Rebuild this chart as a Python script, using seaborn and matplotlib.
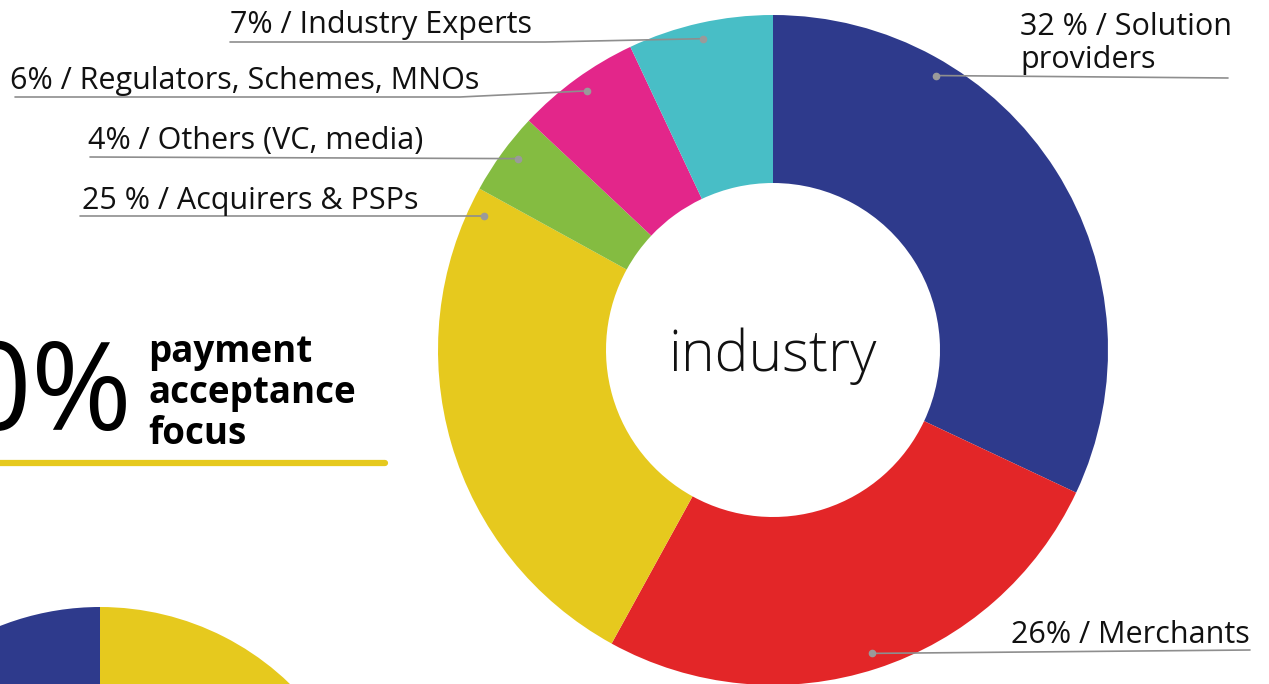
import matplotlib
matplotlib.use("Agg")
import numpy as np
import matplotlib.pyplot as plt
import seaborn as sns

# --- data ---
segments = ["Solution providers", "Merchants", "Acquirers & PSPs",
            "Others (VC, media)", "Regulators, Schemes, MNOs", "Industry Experts"]
shares = [32, 26, 25, 4, 6, 7]
labels = ["32 % / Solution\nproviders", "26% / Merchants", "25 % / Acquirers & PSPs",
          "4% / Others (VC, media)", "6% / Regulators, Schemes, MNOs", "7% / Industry Experts"]
colors = ["#2E3A8C", "#E32628", "#E6C91E", "#84BC41", "#E3268A", "#48BEC6"]

# second (cut off) pie in the lower left corner
small_shares = [60, 40]
small_colors = ["#E6C91E", "#2E3A8C"]

W, H = 1269, 684

sns.set_theme(style="white")
plt.rcParams["font.family"] = ["Open Sans", "DejaVu Sans"]


def Y(py):
    # pixel row (top = 0) -> data y
    return H - py


fig = plt.figure(figsize=(W / 100, H / 100), dpi=100)
ax = fig.add_axes([0, 0, 1, 1])

# main donut
cx, cy, r_out, r_in = 773, Y(350), 335, 167
ax.pie(shares, colors=colors, startangle=90, counterclock=False,
       radius=r_out, center=(cx, cy),
       wedgeprops=dict(width=r_out - r_in, edgecolor="none", linewidth=0))

# small pie, lower left
ax.pie(small_shares, colors=small_colors, startangle=90, counterclock=False,
       radius=273, center=(100, Y(880)),
       wedgeprops=dict(edgecolor="none", linewidth=0))

ax.set_xlim(0, W)
ax.set_ylim(0, H)
ax.set_aspect("equal")
ax.axis("off")

ax.text(cx, cy - 6, "industry", ha="center", va="center",
        fontsize=41, fontweight="light", color="#111111")

# leader lines: where along the slice the dot sits, then text layout
dot_pos = [0.266, 0.5, 0.956, 0.56, 0.515, 0.5]
# (text x, baseline y, ha, line y at text side, far end x, elbow x)
layout = [
    (1020, 68, "left", 78, 1228, None),
    (1250, 643, "right", 650, 1250, None),
    (82, 209, "left", 216, 80, None),
    (88, 149, "left", 157, 90, None),
    (10, 89, "left", 97, 15, 460),
    (230, 33, "left", 42, 230, 545),
]

edges = np.concatenate([[0], np.cumsum(shares)]) / sum(shares)
for i, lab in enumerate(labels):
    frac = edges[i] + dot_pos[i] * (edges[i + 1] - edges[i])
    ang = np.deg2rad(90 - 360 * frac)
    dx, dy = cx + 319 * np.cos(ang), cy + 319 * np.sin(ang)
    tx, ty, ha, ly, far, elbow = layout[i]
    if elbow is None:
        xs, ys = [dx, far], [dy, Y(ly)]
    else:
        xs, ys = [dx, elbow, far], [dy, Y(ly), Y(ly)]
    ax.plot(xs, ys, color="#8E8E8E", lw=1.2, solid_capstyle="round", zorder=3)
    ax.plot([dx], [dy], "o", color="#9A9A9A", ms=4.5, zorder=4)
    ax.text(tx, Y(ty), lab, ha=ha, va="baseline", fontsize=22,
            color="#111111", linespacing=1.15)

# left block
ax.text(133, Y(430), "0%", ha="right", va="baseline", fontsize=88,
        color="#000000")
ax.text(148, Y(444), "payment\nacceptance\nfocus", ha="left", va="baseline",
        fontsize=26.5, fontweight="bold", color="#000000", linespacing=1.1)
ax.plot([0, 385], [Y(463), Y(463)], color="#E6C91E", lw=4.5,
        solid_capstyle="round")

fig.savefig("out.png", dpi=100)
